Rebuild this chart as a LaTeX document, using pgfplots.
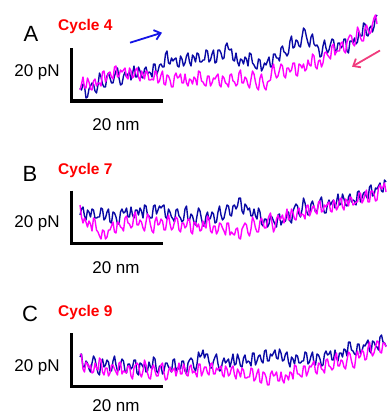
\documentclass[border=0pt]{standalone}
\usepackage{fontspec}
\setmainfont{Liberation Sans}
\usepackage{pgfplots}
\usepackage{pgfplotstable}
\pgfplotsset{compat=1.18}
\usetikzlibrary{arrows.meta}
\definecolor{tblue}{RGB}{10,10,165}
\definecolor{tmag}{RGB}{255,0,255}
\definecolor{tred}{RGB}{255,0,0}
\definecolor{ablue}{RGB}{20,20,230}
\definecolor{apink}{RGB}{240,60,125}

\pgfplotstableread{
x Ab Am Bb Bm Cb Cm
80 88 90 215 205 357 354
81.5 90 84 209 217 354 355
83 84 77 207 223 367 369
84.5 86 88 216 218 367 372
86 98 88 220 222 361 362
87.5 97 78 210 227 363 364
89 89 82 212 221 369 368
90.5 86 89 217 224 372 365
92 83 90 209 231 363 373
93.5 84 81 210 218 356 372
95 91 79 218 220 359 363
96.5 93 86 218 230 367 368
98 85 83 217 232 373 370
99.5 73 83 217 236 375 358
101 77 86 208 239 363 360
102.5 84 72 209 230 359 372
104 87 71 220 231 367 375
105.5 87 82 218 239 365 368
107 76 78 212 237 360 368
108.5 73 73 209 230 362 376
110 78 72 222 230 371 373
111.5 83 77 223 226 371 365
113 83 79 212 222 361 365
114.5 76 67 213 232 356 369
116 71 66 217 233 365 372
117.5 68 77 224 222 371 375
119 78 76 224 223 370 363
120.5 85 70 212 227 364 362
122 84 72 209 228 359 374
123.5 76 70 213 231 361 371
125 72 68 212 218 371 372
126.5 77 77 208 216 373 373
128 74 79 217 223 364 366
129.5 72 68 217 224 364 366
131 80 71 207 228 369 376
132.5 74 78 215 226 367 379
134 66 76 218 215 360 368
135.5 77 70 210 212 360 365
137 77 68 210 225 373 363
138.5 67 77 215 225 375 365
140 71 81 208 220 363 374
141.5 77 71 211 222 364 377
143 78 74 218 228 367 371
144.5 69 79 205 231 364 360
146 67 71 206 222 372 365
147.5 74 72 215 214 371 373
149 72 80 216 217 362 378
150.5 73 80 218 225 367 379
152 77 79 218 231 369 368
153.5 64 80 206 233 357 365
155 64 71 205 221 359 371
156.5 75 72 214 217 371 376
158 71 83 210 225 373 376
159.5 65 81 206 224 366 369
161 64 75 208 219 366 365
162.5 67 71 206 221 374 363
164 67 84 205 230 371 373
165.5 54 85 217 230 363 380
167 51 75 219 220 363 379
168.5 63 76 209 215 367 371
170 64 80 212 224 369 367
171.5 58 87 217 230 372 372
173 61 87 219 228 360 370
174.5 59 76 222 222 359 368
176 58 73 210 217 371 376
177.5 66 78 209 219 368 370
179 67 77 216 230 369 363
180.5 56 74 218 232 369 374
182 59 83 222 223 361 374
183.5 66 83 220 223 361 364
185 63 74 209 228 371 369
186.5 56 83 206 226 374 375
188 53 86 220 219 363 376
189.5 62 79 220 219 360 367
191 66 80 214 232 358 365
192.5 55 84 216 234 360 373
194 57 77 222 222 368 371
195.5 62 79 225 223 371 373
197 53 85 216 227 364 377
198.5 54 71 208 224 352 364
200 62 72 211 231 357 364
201.5 62 81 219 230 355 376
203 60 82 226 221 350 372
204.5 60 85 226 226 358 367
206 50 86 216 228 354 367
207.5 51 76 212 216 354 373
209 62 76 220 219 362 375
210.5 60 86 218 231 368 364
212 54 83 212 233 368 363
213.5 50 78 214 226 361 374
215 63 79 223 226 357 374
216.5 62 76 222 234 354 368
218 50 74 212 231 364 370
219.5 50 85 206 223 371 368
221 53 87 215 224 370 366
222.5 59 76 220 228 362 375
224 58 78 218 231 358 377
225.5 46 83 211 235 363 366
227 43 84 205 223 361 369
228.5 49 87 206 223 359 376
230 50 75 215 235 367 374
231.5 49 74 216 232 361 368
233 60 81 206 234 354 366
234.5 61 82 205 235 365 375
236 53 86 209 229 364 379
237.5 62 84 206 228 354 369
239 66 73 198 238 359 372
240.5 59 70 198 239 366 377
242 60 83 211 229 367 368
243.5 64 83 214 226 358 370
245 57 77 204 223 355 378
246.5 59 79 206 225 363 378
248 66 85 210 233 361 377
249.5 53 88 208 236 362 377
251 54 79 216 229 366 368
252.5 63 71 216 217 353 369
254 65 74 209 221 353 381
255.5 68 82 216 228 365 379
257 69 88 219 232 361 373
258.5 59 90 208 232 356 369
260 60 78 212 221 355 382
261.5 71 74 224 218 361 383
263 68 82 226 223 363 372
264.5 63 88 219 228 351 373
266 65 90 219 228 350 377
267.5 61 82 227 221 361 385
269 57 81 224 216 361 385
270.5 67 80 216 213 354 374
272 67 69 217 223 356 371
273.5 54 64 221 232 353 376
275 54 73 224 228 350 375
276.5 58 78 227 219 358 372
278 58 76 215 215 359 381
279.5 61 70 214 220 349 381
281 48 64 225 218 353 372
282.5 46 66 221 215 361 380
284 52 76 222 223 360 383
285.5 53 78 221 217 354 375
287 56 68 213 209 352 376
288.5 53 68 212 220 362 380
290 41 72 221 219 367 372
291.5 36 70 223 209 357 373
293 48 63 211 213 359 379
294.5 47 63 207 219 364 365
296 40 75 204 220 355 366
297.5 41 76 206 211 356 374
299 46 64 214 208 363 374
300.5 47 65 217 216 363 376
302 37 68 210 214 361 377
303.5 28 64 198 215 361 366
305 30 71 203 219 352 366
306.5 37 69 211 206 353 376
308 43 60 215 205 364 372
309.5 47 65 215 216 362 366
311 37 66 204 212 356 367
312.5 34 54 201 207 352 364
314 44 56 207 206 364 361
315.5 46 67 212 212 365 372
317 45 69 211 214 354 374
318.5 48 61 204 202 355 363
320 57 60 200 201 359 364
321.5 56 67 197 212 366 369
323 46 63 207 211 365 370
324.5 40 53 213 205 354 373
326 48 52 213 207 351 360
327.5 53 55 204 204 355 359
329 50 57 200 202 354 366
330.5 44 59 205 211 351 367
332 39 46 202 212 360 370
333.5 40 44 200 200 360 368
335 50 55 208 203 350 357
336.5 52 51 202 210 358 353
338 43 51 194 207 361 366
339.5 43 51 205 200 353 366
341 48 43 204 198 353 360
342.5 46 42 194 207 357 361
344 39 51 199 210 349 367
345.5 39 53 205 199 350 369
347 51 42 206 201 356 360
348.5 53 38 197 206 342 352
350 41 35 194 197 342 354
351.5 41 36 202 198 350 361
353 43 44 200 205 351 367
354.5 38 46 201 204 354 368
356 44 39 205 202 355 356
357.5 42 27 192 202 344 351
359 32 31 191 193 344 358
360.5 36 38 202 193 354 356
362 36 41 198 203 351 350
363.5 23 41 193 200 345 352
365 24 29 192 194 346 360
366.5 35 25 197 190 343 359
368 36 30 199 202 340 348
369.5 28 34 187 202 351 342
371 26 32 185 191 353 351
372.5 32 24 196 191 341 356
374 27 18 195 194 342 353
375.5 17 15 188 201 346 347
377 15 24 189 200 347 341
378.5 nan nan 186 188 350 342
380 nan nan 183 185 337 352
381.5 nan nan 191 189 335 353
383 nan nan 192 187 342 343
384.5 nan nan 180 183 343 343
386 nan nan 182 192 346 347
}\traces

\begin{document}
\begin{tikzpicture}
\begin{axis}[
  width=389pt, height=415pt, scale only axis,
  xmin=0, xmax=389, ymin=0, ymax=415, y dir=reverse,
  clip=false, axis line style={draw=none},
  xtick=\empty, ytick=\empty]
% traces
\addplot[tblue, line width=1.4pt, line join=round] table[x=x,y=Ab]{\traces};
\addplot[tmag, line width=1.4pt, line join=round] table[x=x,y=Am]{\traces};
\addplot[tblue, line width=1.4pt, line join=round] table[x=x,y=Bb]{\traces};
\addplot[tmag, line width=1.4pt, line join=round] table[x=x,y=Bm]{\traces};
\addplot[tblue, line width=1.4pt, line join=round] table[x=x,y=Cb]{\traces};
\addplot[tmag, line width=1.4pt, line join=round] table[x=x,y=Cm]{\traces};
% scale bars
\addplot[black, line width=3.4pt, line join=miter] coordinates {(71.4,48)(71.4,101)(162.5,101)};
\addplot[black, line width=3.4pt, line join=miter] coordinates {(71.4,190.5)(71.4,243.4)(162.5,243.4)};
\addplot[black, line width=3.4pt, line join=miter] coordinates {(71.4,333)(71.4,386.7)(162.5,386.7)};
% arrows
\addplot[ablue, line width=1.8pt, -{Straight Barb[length=6pt,width=10pt]}] coordinates {(130,42.7)(162,32.7)};
\addplot[apink, line width=1.8pt, -{Straight Barb[length=6pt,width=10pt]}] coordinates {(380,50.5)(352,66.7)};
% labels
\node[anchor=base, font=\fontsize{22}{24}\selectfont] at (31,41) {A};
\node[anchor=base, font=\fontsize{22}{24}\selectfont] at (30,181) {B};
\node[anchor=base, font=\fontsize{22}{24}\selectfont] at (30,321.7) {C};
\node[anchor=base west, inner sep=0pt, text=tred, font=\bfseries\fontsize{15.5}{18}\selectfont] at (58,30.5) {Cycle 4};
\node[anchor=base west, inner sep=0pt, text=tred, font=\bfseries\fontsize{15.5}{18}\selectfont] at (58,174) {Cycle 7};
\node[anchor=base west, inner sep=0pt, text=tred, font=\bfseries\fontsize{15.5}{18}\selectfont] at (58,316) {Cycle 9};
\node[anchor=base, inner sep=0pt, font=\fontsize{17}{20}\selectfont] at (37,76.7) {20 pN};
\node[anchor=base, inner sep=0pt, font=\fontsize{17}{20}\selectfont] at (37,227.3) {20 pN};
\node[anchor=base, inner sep=0pt, font=\fontsize{17}{20}\selectfont] at (37,371.7) {20 pN};
\node[anchor=base, inner sep=0pt, font=\fontsize{17}{20}\selectfont] at (116,130) {20 nm};
\node[anchor=base, inner sep=0pt, font=\fontsize{17}{20}\selectfont] at (116,273.3) {20 nm};
\node[anchor=base, inner sep=0pt, font=\fontsize{17}{20}\selectfont] at (116,411.5) {20 nm};
\end{axis}
\end{tikzpicture}
\end{document}
